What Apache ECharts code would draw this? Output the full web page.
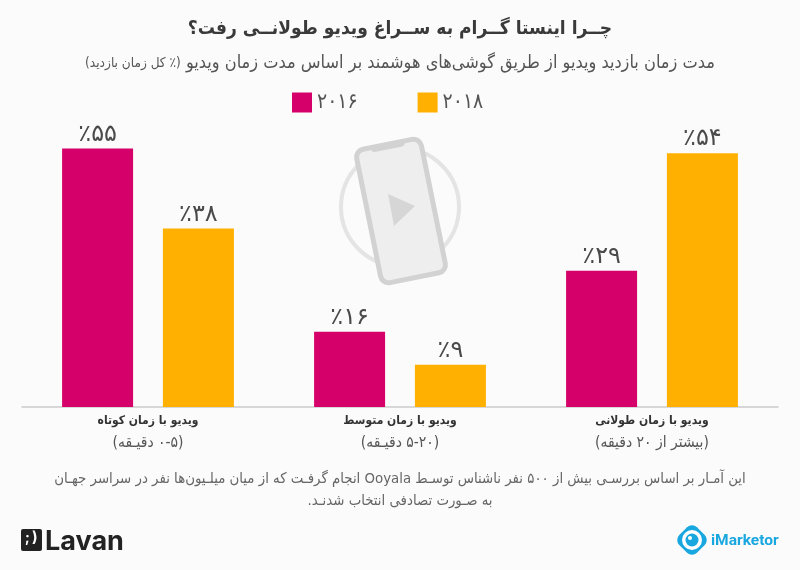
<!DOCTYPE html>
<html lang="fa" dir="rtl">
<head>
  <meta charset="UTF-8">
  <title>چرا اینستاگرام به سراغ ویدیو طولانی رفت؟</title>
  <script src="https://cdn.jsdelivr.net/npm/echarts@6/dist/echarts.min.js"></script>
  <style>
    html, body { margin: 0; padding: 0; background: #fbfbfb; }
    #chart { width: 800px; height: 570px; }
  </style>
</head>
<body>
<div id="chart"></div>
<script>
  const categoryNames = ['ویدیو با زمان کوتاه', 'ویدیو با زمان متوسط', 'ویدیو با زمان طولانی'];
  const categoryRanges = ['(۰-۵ دقیـقه)', '(۵-۲۰ دقیـقه)', '(بیشتر از ۲۰ دقیقه)'];
  const seriesNames = ['۲۰۱۶', '۲۰۱۸'];
  const values2016 = [55, 16, 29];
  const values2018 = [38, 9, 54];
  const valueLabels2016 = ['٪۵۵', '٪۱۶', '٪۲۹'];
  const valueLabels2018 = ['٪۳۸', '٪۹', '٪۵۴'];

  const FONT = '"DejaVu Sans Condensed", "DejaVu Sans", sans-serif';
  const chart = echarts.init(document.getElementById('chart'), null, { renderer: 'canvas' });

  function barSeries(name, data, labels, color) {
    return {
      name: name,
      type: 'bar',
      data: data,
      barWidth: 71,
      barGap: '42%',
      itemStyle: { color: color },
      z: 3,
      label: {
        show: true,
        position: 'top',
        distance: 2,
        fontFamily: '"DejaVu Sans", sans-serif',
        fontSize: 24,
        color: '#4a4a4a',
        formatter: function (p) { return labels[p.dataIndex]; }
      }
    };
  }

  // phone + play icon behind the bars
  const phoneIcon = {
    type: 'group',
    z: 1,
    children: [
      { type: 'circle', shape: { cx: 400, cy: 207, r: 59 }, style: { fill: 'none', stroke: '#e4e4e4', lineWidth: 4 } },
      {
        type: 'rect', x: 401, y: 211, rotation: 0.2,
        shape: { x: -33, y: -68, width: 66, height: 136, r: 8 },
        style: { fill: '#eeeeee', stroke: '#d2d2d2', lineWidth: 5 }
      },
      {
        type: 'rect', x: 401, y: 211, rotation: 0.2,
        shape: { x: -17, y: -68, width: 34, height: 5, r: [0, 0, 4, 4] },
        style: { fill: '#d2d2d2' }
      },
      {
        type: 'polygon',
        shape: { points: [[388, 194], [415, 206], [394, 226]] },
        style: { fill: '#d6d6d6' }
      }
    ]
  };

  const option = {
    backgroundColor: '#fbfbfb',
    animation: false,
    textStyle: { fontFamily: FONT },
    title: [
      {
        text: 'چــرا اینستا گــرام به ســراغ ویدیو طولانــی رفت؟',
        left: 'center', top: 15,
        textStyle: { fontFamily: FONT, fontSize: 19, fontWeight: 'bold', color: '#3a3a3a' }
      },
      {
        text: '{s|(٪ کل زمان بازدید)} {m|مدت زمان بازدید ویدیو از طریق گوشی‌های هوشمند بر اساس مدت زمان ویدیو}',
        left: 'center', top: 49,
        textStyle: {
          fontWeight: 'normal',
          rich: {
            m: { fontFamily: FONT, fontSize: 18, fontWeight: 'normal', color: '#555' },
            s: { fontFamily: FONT, fontSize: 13.5, fontWeight: 'normal', color: '#555' }
          }
        }
      }
    ],
    legend: {
      top: 87,
      left: 287,
      itemWidth: 20,
      itemHeight: 20,
      itemGap: 60,
      icon: 'rect',
      textStyle: { fontFamily: FONT, fontSize: 21, color: '#555', padding: [0, 0, 0, 0] },
      data: seriesNames
    },
    grid: { left: 22, right: 22, top: 125, bottom: 163 },
    xAxis: {
      type: 'category',
      data: categoryNames,
      axisTick: { show: false },
      axisLine: { lineStyle: { color: '#cccccc', width: 1.5 } },
      axisLabel: {
        margin: 3,
        formatter: function (value, i) {
          return '{a|' + value + '}\n{b|' + categoryRanges[i] + '}';
        },
        rich: {
          a: { fontFamily: FONT, fontSize: 12, fontWeight: 'bold', color: '#333', lineHeight: 22 },
          b: { fontFamily: FONT, fontSize: 15.5, fontWeight: 'normal', color: '#555', lineHeight: 22 }
        }
      }
    },
    yAxis: { type: 'value', min: 0, max: 60, show: false, splitLine: { show: false } },
    series: [
      barSeries(seriesNames[0], values2016, valueLabels2016, '#d6006a'),
      barSeries(seriesNames[1], values2018, valueLabels2018, '#ffb000')
    ],
    graphic: [
      phoneIcon,
      {
        type: 'text', x: 400, y: 472,
        style: {
          text: 'این آمـار بر اساس بررسـی بیش از ۵۰۰ نفر ناشناس توسـط Ooyala انجام گرفـت که از میان میلـیون‌ها نفر در سراسر جهـان',
          fontFamily: FONT, fontSize: 14.8, fill: '#666', align: 'center'
        }
      },
      {
        type: 'text', x: 400, y: 494,
        style: {
          text: 'به صـورت تصادفی انتخاب شدنـد.',
          fontFamily: FONT, fontSize: 14.8, fill: '#666', align: 'center'
        }
      },
      // Lavan logo
      { type: 'rect', shape: { x: 21, y: 529, width: 21, height: 22, r: 2 }, style: { fill: '#222' } },
      { type: 'text', x: 25, y: 531, style: { text: ';', fontFamily: 'Inter', fontSize: 14, fontWeight: 'bold', fill: '#fff' } },
      { type: 'text', x: 32, y: 530, style: { text: '\u200E)\u200E', fontFamily: 'Inter', fontSize: 15, fontWeight: 'bold', fill: '#fff' } },
      { type: 'text', x: 45, y: 528, style: { text: 'Lavan', fontFamily: 'Inter', fontSize: 27, fontWeight: 700, fill: '#222' } },
      // iMarketor logo
      {
        type: 'rect', x: 692, y: 540, rotation: Math.PI / 4,
        shape: { x: -12.5, y: -12.5, width: 25, height: 25, r: 7 },
        style: { fill: '#19a7e0' }
      },
      { type: 'circle', shape: { cx: 692, cy: 540, r: 10 }, style: { fill: '#fff' } },
      { type: 'circle', shape: { cx: 692, cy: 540, r: 6.5 }, style: { fill: '#19a7e0' } },
      { type: 'circle', shape: { cx: 690, cy: 538, r: 2 }, style: { fill: '#fff' } },
      { type: 'text', x: 711, y: 533, style: { text: 'iMarketor', fontFamily: 'Roboto', fontSize: 15.5, fontWeight: 'bold', fill: '#19a7e0' } }
    ]
  };
  chart.setOption(option);
</script>
</body>
</html>
